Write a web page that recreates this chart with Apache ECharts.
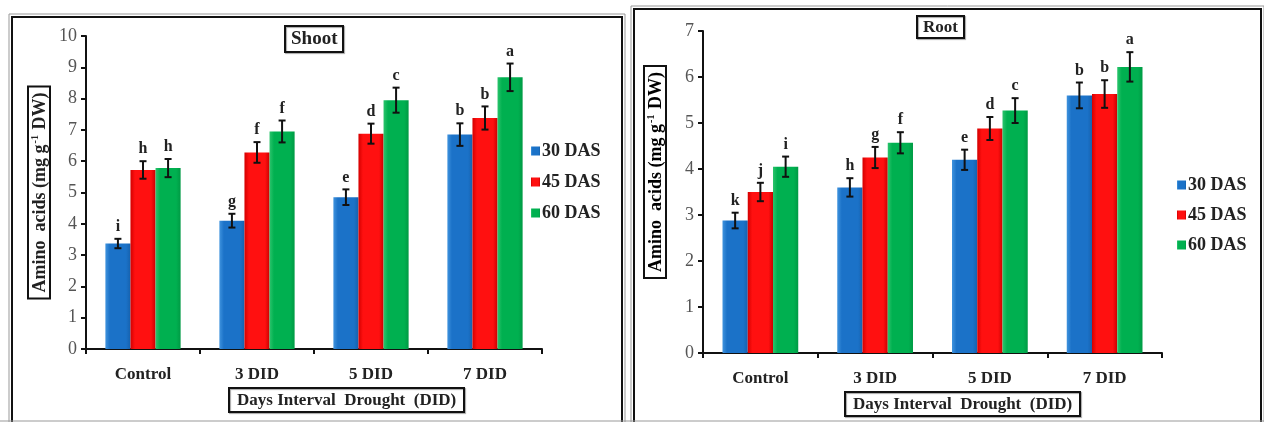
<!DOCTYPE html>
<html>
<head>
<meta charset="utf-8">
<script src="https://cdn.jsdelivr.net/npm/echarts@6/dist/echarts.min.js"></script>
<style>
html,body{margin:0;padding:0;background:#fff;}
#chart{width:1264px;height:422px;}
</style>
</head>
<body>
<div id="chart"></div>
<script>
// ---- data ----
var categories = ['Control', '3 DID', '5 DID', '7 DID'];
var seriesNames = ['30 DAS', '45 DAS', '60 DAS'];
var yTicksShoot = [0, 1, 2, 3, 4, 5, 6, 7, 8, 9, 10];
var yTicksRoot = [0, 1, 2, 3, 4, 5, 6, 7];

var shoot30 = [3.37, 4.10, 4.85, 6.85];
var shoot45 = [5.72, 6.28, 6.88, 7.38];
var shoot60 = [5.78, 6.95, 7.95, 8.68];
var shootErr30 = [0.15, 0.22, 0.25, 0.36];
var shootErr45 = [0.28, 0.33, 0.32, 0.37];
var shootErr60 = [0.29, 0.35, 0.40, 0.44];
var shootLet30 = ['i', 'g', 'e', 'b'];
var shootLet45 = ['h', 'f', 'd', 'b'];
var shootLet60 = ['h', 'f', 'c', 'a'];

var root30 = [2.88, 3.60, 4.20, 5.60];
var root45 = [3.50, 4.25, 4.88, 5.63];
var root60 = [4.05, 4.57, 5.27, 6.22];
var rootErr30 = [0.17, 0.20, 0.22, 0.28];
var rootErr45 = [0.20, 0.23, 0.25, 0.30];
var rootErr60 = [0.22, 0.23, 0.27, 0.32];
var rootLet30 = ['k', 'h', 'e', 'b'];
var rootLet45 = ['j', 'g', 'd', 'b'];
var rootLet60 = ['i', 'f', 'c', 'a'];

var yTitleText = '{a|Amino  acids (mg g}{s|-1}{a| DW)}';
var xTitleText = 'Days Interval  Drought  (DID)';

// ---- styles ----
var FONT = '"Liberation Serif", "Times New Roman", serif';
function grad(edgeL, mid, edgeR) {
  return new echarts.graphic.LinearGradient(0, 0, 1, 0, [
    {offset: 0, color: edgeL}, {offset: 0.18, color: mid},
    {offset: 0.82, color: mid}, {offset: 1, color: edgeR}
  ]);
}
var colors = [
  grad('#3f93de', '#1b72c8', '#1662ae'),
  grad('#d40000', '#ff1010', '#cc0000'),
  grad('#2bc46c', '#00b050', '#009a44')
];
var BAR_FRAC = 0.66;

function buildErr(vals, errs, lets) {
  return vals.map(function (v, i) { return [i, v, errs[i], lets[i]]; });
}

function errSeries(gridIdx, k, vals, errs, lets) {
  var data = buildErr(vals, errs, lets);
  return {
    type: 'custom',
    xAxisIndex: gridIdx, yAxisIndex: gridIdx,
    z: 10,
    silent: true,
    encode: {x: 0, y: 1},
    data: data,
    renderItem: function (params, api) {
      var ci = api.value(0), v = api.value(1), e = api.value(2);
      var letter = data[params.dataIndex][3];
      var c = api.coord([ci, v]);
      var bw = api.size([1, 0])[0] * BAR_FRAC / 3;
      var cx = c[0] + (k - 1) * bw;
      var top = api.coord([ci, v + e])[1];
      var bot = api.coord([ci, v - e])[1];
      var st = {stroke: '#111', lineWidth: 2};
      return {
        type: 'group',
        children: [
          {type: 'line', shape: {x1: cx, y1: top, x2: cx, y2: bot}, style: st},
          {type: 'line', shape: {x1: cx - 3.5, y1: top, x2: cx + 3.5, y2: top}, style: st},
          {type: 'line', shape: {x1: cx - 3.5, y1: bot, x2: cx + 3.5, y2: bot}, style: st},
          {type: 'text', x: cx, y: top - 4, style: {
            text: letter, fill: '#222', font: 'bold 16px ' + FONT,
            textAlign: 'center', textVerticalAlign: 'bottom'
          }}
        ]
      };
    }
  };
}

function barSeries(gridIdx, k, vals) {
  return {
    type: 'bar', name: seriesNames[k],
    xAxisIndex: gridIdx, yAxisIndex: gridIdx,
    data: vals,
    barGap: '0%', barCategoryGap: '34%',
    itemStyle: {color: colors[k]},
    emphasis: {disabled: true}
  };
}

function xAxisCfg(gridIdx) {
  return {
    type: 'category', gridIndex: gridIdx, data: categories,
    axisLine: {lineStyle: {color: '#111', width: 2}},
    axisTick: {show: true, length: 5, lineStyle: {color: '#111', width: 2}},
    axisLabel: {color: '#222', fontFamily: FONT, fontWeight: 'bold', fontSize: 17, margin: 17}
  };
}
var yNameRich = {
  a: {fontFamily: FONT, fontWeight: 'bold', fontSize: 18, color: '#222'},
  s: {fontFamily: FONT, fontWeight: 'bold', fontSize: 10, color: '#222', verticalAlign: 'top', padding: [0, 1, 10, 1]}
};
function yAxisCfg(gridIdx, ticks, withName) {
  var cfg = {
    type: 'value', gridIndex: gridIdx,
    min: ticks[0], max: ticks[ticks.length - 1], interval: 1,
    axisLine: {show: true, lineStyle: {color: '#111', width: 2}},
    axisTick: {show: true, length: 5, lineStyle: {color: '#111', width: 2}},
    splitLine: {show: false},
    axisLabel: {color: '#555', fontFamily: FONT, fontSize: 18, margin: 9}
  };
  if (withName) {
    cfg.name = yTitleText;
    cfg.nameLocation = 'middle';
    cfg.nameGap = 36;
    cfg.nameRotate = 90;
    cfg.nameTextStyle = {borderColor: '#111', borderWidth: 2, padding: [2, 6, 0, 6], rich: yNameRich};
  }
  return cfg;
}

var chart = echarts.init(document.getElementById('chart'), null, {renderer: 'canvas'});
var boxTitle = {borderColor: '#111', borderWidth: 2, padding: [4, 6, 3, 6],
  shadowColor: 'rgba(0,0,0,0.35)', shadowOffsetX: 1, shadowOffsetY: 1, shadowBlur: 1};
function mkTitle(text, left, top, size, pad) {
  return Object.assign({}, boxTitle, {
    text: text, left: left, top: top, padding: pad || boxTitle.padding,
    textStyle: {fontFamily: FONT, fontWeight: 'bold', fontSize: size, color: '#222'}
  });
}

var option = {
  animation: false,
  backgroundColor: '#fff',
  title: [
    mkTitle('Shoot', 285, 26, 19, [4, 6, 3, 6]),
    mkTitle('Root', 917, 16, 17, [3, 6, 2, 6]),
    mkTitle(xTitleText, 229, 388, 17, [4, 8, 3, 8]),
    mkTitle(xTitleText, 845, 392, 17, [4, 8, 3, 8])
  ],
  legend: [
    {data: seriesNames, orient: 'vertical', left: 526, top: 137, itemGap: 13,
     icon: 'rect', itemWidth: 9, itemHeight: 9,
     textStyle: {fontFamily: FONT, fontWeight: 'bold', fontSize: 18, color: '#222', padding: [0, 0, 0, -3]}},
    {data: seriesNames, orient: 'vertical', left: 1172, top: 171, itemGap: 12,
     icon: 'rect', itemWidth: 9, itemHeight: 9,
     textStyle: {fontFamily: FONT, fontWeight: 'bold', fontSize: 18, color: '#222', padding: [0, 0, 0, -3]}}
  ],
  grid: [
    {left: 86, top: 36, width: 456, height: 313},
    {left: 703, top: 31, width: 459, height: 322}
  ],
  xAxis: [xAxisCfg(0), xAxisCfg(1)],
  yAxis: [yAxisCfg(0, yTicksShoot, true), yAxisCfg(1, yTicksRoot, false)],
  series: [
    barSeries(0, 0, shoot30), barSeries(0, 1, shoot45), barSeries(0, 2, shoot60),
    errSeries(0, 0, shoot30, shootErr30, shootLet30),
    errSeries(0, 1, shoot45, shootErr45, shootLet45),
    errSeries(0, 2, shoot60, shootErr60, shootLet60),
    barSeries(1, 0, root30), barSeries(1, 1, root45), barSeries(1, 2, root60),
    errSeries(1, 0, root30, rootErr30, rootLet30),
    errSeries(1, 1, root45, rootErr45, rootLet45),
    errSeries(1, 2, root60, rootErr60, rootLet60)
  ],
  graphic: [
    {type: 'rect', silent: true, z: -1, shape: {x: 9, y: 14, width: 616, height: 420}, style: {fill: null, stroke: '#999', lineWidth: 1}},
    {type: 'rect', silent: true, z: -1, shape: {x: 12, y: 17, width: 610, height: 420}, style: {fill: null, stroke: '#111', lineWidth: 2}},
    {type: 'rect', silent: true, z: -1, shape: {x: 634, y: 9, width: 627, height: 430}, style: {fill: null, stroke: '#111', lineWidth: 2}},
    {type: 'rect', silent: true, z: -1, shape: {x: 631, y: 6, width: 633, height: 430}, style: {fill: null, stroke: '#999', lineWidth: 1}},
    {type: 'line', silent: true, z: -1, shape: {x1: 0, y1: 421, x2: 1264, y2: 421}, style: {stroke: '#999', lineWidth: 1}},
    {type: 'text', silent: true, z: 5, x: 655, y: 172, rotation: Math.PI / 2,
     style: {text: yTitleText, rich: yNameRich, align: 'center', verticalAlign: 'middle',
             borderColor: '#111', borderWidth: 2, padding: [2, 6, 0, 6]}}
  ]
};
chart.setOption(option);
</script>
</body>
</html>
